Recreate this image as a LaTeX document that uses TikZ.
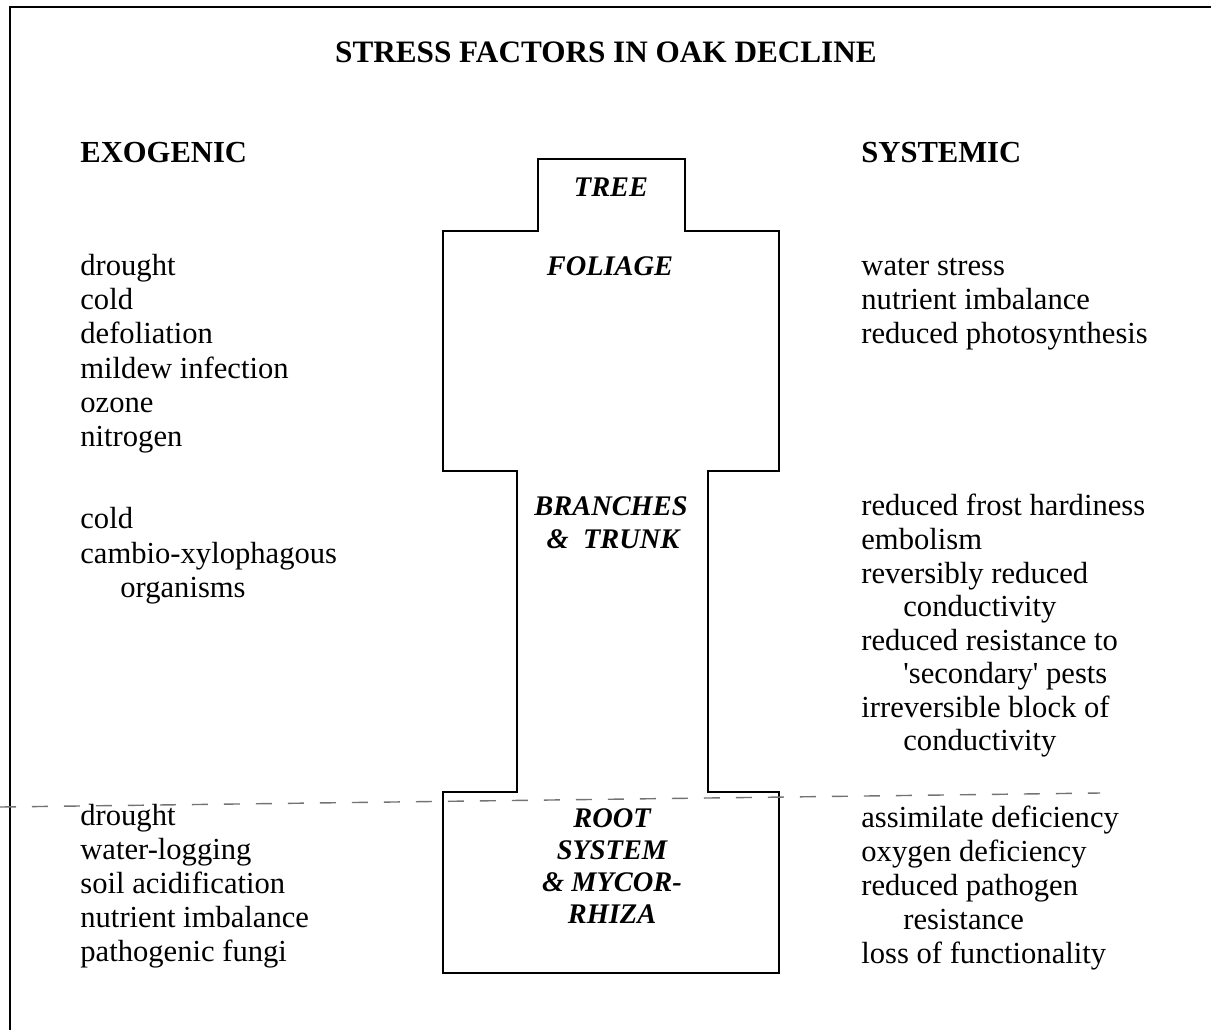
\documentclass[tikz,border=0pt]{standalone}
\usepackage{fontspec}
\setmainfont{Liberation Serif}

\begin{document}
\begin{tikzpicture}[x=0.5pt, y=-0.5pt] % 1 unit = 1 px of the page, y downwards
    % Styles for the lists and the labels of the tree
    \tikzset{
        item/.style={anchor=base west, inner sep=0pt, font=\fontsize{15.3}{17}\selectfont},
        head/.style={anchor=base west, inner sep=0pt, font=\fontsize{15.3}{17}\selectfont\bfseries},
        part/.style={anchor=base, inner sep=0pt, font=\fontsize{14.2}{16}\selectfont\bfseries\itshape},
        outline/.style={line width=0.9pt},
        limit/.style={line width=0.7pt, black!55, dash pattern=on 8pt off 8pt}
    }

    % Indent of the continued lines
    \def\ind{42}

    \useasboundingbox (0,0) rectangle (1211,1030);

    % --- Frame (only left and top edges visible) ---
    \draw[outline] (10,1030) -- (10,7) -- (1211,7);

    % --- Title and column heads ---
    \node[anchor=base, inner sep=0pt, font=\fontsize{15.6}{17}\selectfont\bfseries] (title) at (606,62) {STRESS FACTORS IN OAK DECLINE};
    \node[head] (exo) at (80,162) {EXOGENIC};
    \node[head] (sys) at (861,162) {SYSTEMIC};

    % --- Outline of the tree ---
    \draw[outline] (443,973) -- (443,792) -- (517,792) -- (517,471) -- (443,471)
        -- (443,231) -- (538,231) -- (538,159) -- (685,159) -- (685,231)
        -- (779,231) -- (779,471) -- (708,471) -- (708,792) -- (779,792)
        -- (779,973) -- cycle;

    % Labels inside the tree
    \node[part] (tree) at (611,196) {TREE};
    \node[part] (foliage) at (610,275) {FOLIAGE};
    \node[part] (branches) at (611,515) {BRANCHES};
    \node[part] (trunk) at (613,548) {\&\ \ TRUNK};
    \foreach \yy/\txt [count=\i] in {827/ROOT, 859/SYSTEM, 891/\& MYCOR-, 923/RHIZA}
        \node[part] (root\i) at (612,\yy) {\txt};

    % --- Soil level (dashed) ---
    \draw[limit] (0,807) -- (1100,793);

    % --- Exogenic factors ---
    \foreach \dx/\yy/\txt [count=\i] in {0/275/drought, 0/309/cold, 0/343/defoliation,
        0/378/mildew infection, 0/412/ozone, 0/446/nitrogen}
        \node[item] (exoF\i) at (80+\dx,\yy) {\txt};
    \foreach \dx/\yy/\txt [count=\i] in {0/528/cold, 0/563/cambio-xylophagous,
        40/597/organisms}
        \node[item] (exoB\i) at (80+\dx,\yy) {\txt};
    \foreach \dx/\yy/\txt [count=\i] in {0/825/drought, 0/859/water-logging,
        0/893/soil acidification, 0/927/nutrient imbalance, 0/961/pathogenic fungi}
        \node[item] (exoR\i) at (80+\dx,\yy) {\txt};

    % --- Systemic effects ---
    \foreach \dx/\yy/\txt [count=\i] in {0/275/water stress, 0/309/nutrient imbalance,
        0/343/reduced photosynthesis}
        \node[item] (sysF\i) at (861+\dx,\yy) {\txt};
    \foreach \dx/\yy/\txt [count=\i] in {0/515/reduced frost hardiness, 0/549/embolism,
        0/583/reversibly reduced, \ind/616/conductivity, 0/650/reduced resistance to,
        \ind/683/\textquotesingle secondary\textquotesingle\ pests,
        0/717/irreversible block of, \ind/750/conductivity}
        \node[item] (sysB\i) at (861+\dx,\yy) {\txt};
    \foreach \dx/\yy/\txt [count=\i] in {0/827/assimilate deficiency, 0/861/oxygen deficiency,
        0/895/reduced pathogen, \ind/929/resistance, 0/963/loss of functionality}
        \node[item] (sysR\i) at (861+\dx,\yy) {\txt};
\end{tikzpicture}
\end{document}
